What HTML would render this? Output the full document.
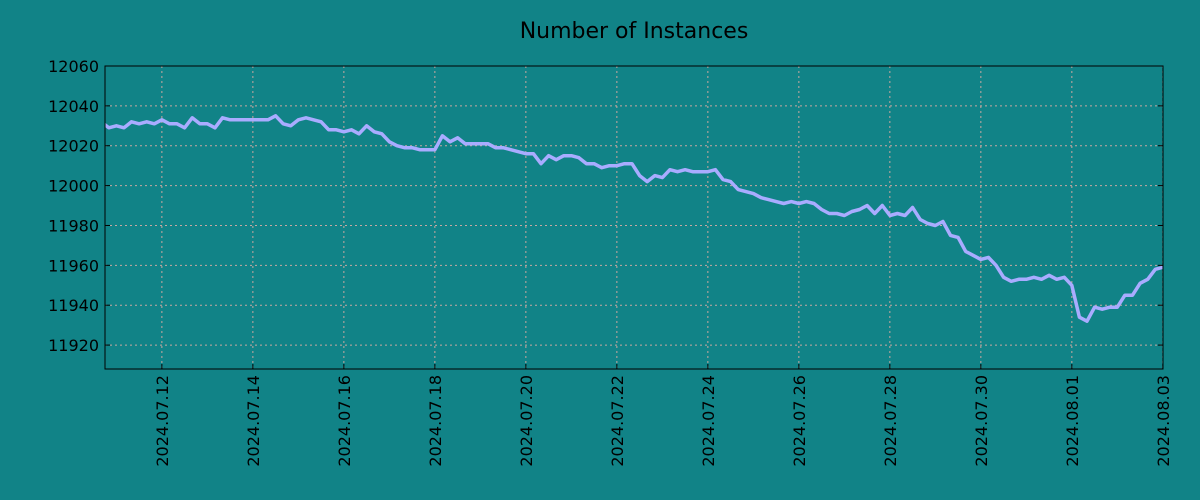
<!DOCTYPE html>
<html><head><meta charset="utf-8"><style>
body{margin:0;background:#118387;}
svg{display:block;font-family:"DejaVu Sans","Liberation Sans",sans-serif;}
</style></head><body>
<svg id="chart" width="1200" height="500">
<rect width="1200" height="500" fill="#118387"/>
<text x="634" y="38" font-size="22" text-anchor="middle" fill="#000">Number of Instances</text>
<defs><clipPath id="plotclip"><rect x="105" y="66" width="1058" height="303"/></clipPath></defs>
<g id="grid"></g><g id="series" clip-path="url(#plotclip)"></g><g id="axes"></g>
</svg>
<script>
const startTime = Date.UTC(2024,6,10,16); // first sample
const stepHours = 4;
const values = [12032,12029,12030,12029,12032,12031,12032,12031,
12033,12031,12031,12029,12034,12031,12031,12029,12034,12033,12033,12033,
12033,12033,12033,12035,12031,12030,12033,12034,12033,12032,12028,12028,
12027,12028,12026,12030,12027,12026,12022,12020,12019,12019,12018,12018,
12018,12025,12022,12024,12021,12021,12021,12021,12019,12019,12018,12017,
12016,12016,12011,12015,12013,12015,12015,12014,12011,12011,12009,12010,
12010,12011,12011,12005,12002,12005,12004,12008,12007,12008,12007,12007,
12007,12008,12003,12002,11998,11997,11996,11994,11993,11992,11991,11992,
11991,11992,11991,11988,11986,11986,11985,11987,11988,11990,11986,11990,
11985,11986,11985,11989,11983,11981,11980,11982,11975,11974,11967,11965,
11963,11964,11960,11954,11952,11953,11953,11954,11953,11955,11953,11954,
11950,11934,11932,11939,11938,11939,11939,11945,11945,11951,11953,11958,
11959];
const yTicks = [11920,11940,11960,11980,12000,12020,12040,12060];
const xTickLabels = ["2024.07.12","2024.07.14","2024.07.16","2024.07.18","2024.07.20","2024.07.22","2024.07.24","2024.07.26","2024.07.28","2024.07.30","2024.08.01","2024.08.03"];

const L=105,R=1163,T=66,B=369;
const tMin=Date.UTC(2024,6,10,18), tMax=Date.UTC(2024,7,3,0,5);
const vMin=11908, vMax=12060;
const xs=t=>L+(t-tMin)/(tMax-tMin)*(R-L);
const ys=v=>B-(v-vMin)/(vMax-vMin)*(B-T);
const NS="http://www.w3.org/2000/svg";
function mk(tag,attrs,parent){const e=document.createElementNS(NS,tag);for(const k in attrs)e.setAttribute(k,attrs[k]);parent.appendChild(e);return e;}
const grid=document.getElementById('grid'),axes=document.getElementById('axes'),series=document.getElementById('series');

yTicks.forEach(v=>{
  const y=ys(v);
  const g=mk('line',{x1:L,x2:R,y1:y,y2:y,stroke:'#c8a8a0','stroke-dasharray':'2,3','stroke-width':1},grid);
  
  
  const tk=mk('line',{x1:L,x2:L+5,y1:y,y2:y,stroke:'#000'},axes);
  
  
  const tk2=mk('line',{x1:R-5,x2:R,y1:y,y2:y,stroke:'#000'},axes);
  
  
  const t=mk('text',{x:L-6,y:y+6,'font-size':16,'text-anchor':'end',fill:'#000'},axes);
  t.textContent=v;
  
  
});
xTickLabels.forEach(s=>{
  const p=s.split('.');
  const x=xs(Date.UTC(+p[0],+p[1]-1,+p[2]));
  const g=mk('line',{x1:x,x2:x,y1:T,y2:B,stroke:'#c8a8a0','stroke-dasharray':'2,3','stroke-width':1},grid);
  
  
  const tk=mk('line',{x1:x,x2:x,y1:B-5,y2:B,stroke:'#000'},axes);
  
  
  const t=mk('text',{x:x+6,y:B+6,'font-size':16,'text-anchor':'end',fill:'#000',transform:`rotate(-90 ${x+6} ${B+6})`},axes);
  t.textContent=s;
  
  
});
const frame=mk('rect',{x:L,y:T,width:R-L,height:B-T,fill:'none',stroke:'#000','stroke-width':1},axes);



const pts=values.map((v,i)=>xs(startTime+i*stepHours*3600e3).toFixed(1)+','+ys(v).toFixed(1)).join(' ');
const line=mk('polyline',{points:pts,fill:'none',stroke:'#a9acff','stroke-width':3.5,'stroke-linejoin':'round'},series);


</script>
</body></html>
